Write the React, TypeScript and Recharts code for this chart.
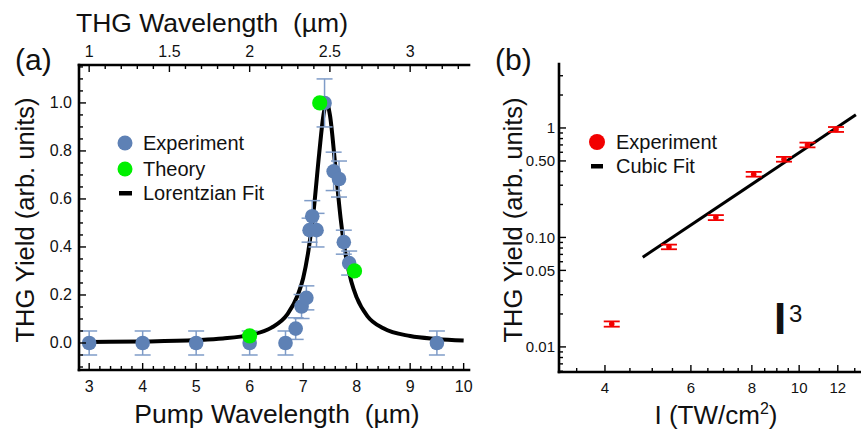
import React from 'react';
import { ComposedChart, Scatter, Line, XAxis, YAxis, ErrorBar } from 'recharts';

const FONT = "'Liberation Sans', Arial, Helvetica, sans-serif";
const BLUE = '#5E81B5';
const BLUE_ERR = '#7F9CC8';
const GREEN = '#00F000';
const RED = '#F20000';

// ---------- Panel (a) ----------
const pumpWavelength = [3, 4, 5, 6, 6.67, 6.86, 6.97, 7.06, 7.12, 7.17, 7.25, 7.4, 7.57, 7.67, 7.76, 7.86, 9.5];
const expYield = [0, 0, 0, 0, 0, 0.06, 0.152, 0.188, 0.47, 0.528, 0.47, 1.0, 0.715, 0.683, 0.42, 0.333, 0];
const expError = [0.05, 0.05, 0.05, 0.05, 0.05, 0.045, 0.05, 0.05, 0.05, 0.065, 0.07, 0.1, 0.08, 0.075, 0.05, 0.05, 0.05];
const theoryWavelength = [6.0, 7.31, 7.96];
const theoryYield = [0.03, 1.0, 0.3];
const fitWavelength = [2.9, 3, 4, 5, 5.5, 6, 6.4, 6.7, 6.9, 7.0, 7.1, 7.2, 7.3, 7.38, 7.44, 7.5, 7.6, 7.7, 7.8, 7.9, 8.0, 8.2, 8.5, 9, 9.5, 10.0];
const fitYield = [0.003, 0.004, 0.006, 0.012, 0.019, 0.034, 0.063, 0.118, 0.2, 0.27, 0.387, 0.56, 0.79, 0.95, 1.0, 0.95, 0.74, 0.52, 0.36, 0.256, 0.19, 0.112, 0.061, 0.029, 0.017, 0.01];
const pumpTicks = [3, 4, 5, 6, 7, 8, 9, 10];
const thgTicks = [1, 1.5, 2, 2.5, 3];
const yieldTicksA = [0, 0.2, 0.4, 0.6, 0.8, 1.0];

// ---------- Panel (b) ----------
const intensity = [4.13, 5.41, 6.75, 8.07, 9.31, 10.4, 11.9];
const thgYieldB = [0.0162, 0.082, 0.152, 0.378, 0.518, 0.7, 0.97];
const thgErrorB = [0.0009, 0.004, 0.008, 0.019, 0.026, 0.035, 0.05];
const cubicIntensity = [4.78, 13.07];
const cubicYield = [0.066, 1.32];
const intensityTicks = [4, 6, 8, 10, 12];
const intensityMinor = [3.5, 4.5, 5, 5.5, 6.5, 7, 7.5, 8.5, 9, 9.5, 11, 13];
const yieldTicksB = [0.01, 0.05, 0.1, 0.5, 1];
const yieldTickLabelsB = ['0.01', '0.05', '0.10', '0.50', '1'];
const yieldMinorB = [0.006, 0.007, 0.008, 0.009, 0.02, 0.03, 0.04, 0.06, 0.07, 0.08, 0.09, 0.2, 0.3, 0.4, 0.6, 0.7, 0.8, 0.9, 2, 3];

const range = (a: number, b: number, step: number) => {
  const out: number[] = [];
  const n = Math.round((b - a) / step);
  for (let i = 0; i <= n; i++) out.push(Math.round((a + i * step) * 1e6) / 1e6);
  return out;
};

const expData = pumpWavelength.map((x, i) => ({ x, y: expYield[i], err: expError[i] }));
const theoryData = theoryWavelength.map((x, i) => ({ x, y: theoryYield[i] }));
const fitData = fitWavelength.map((x, i) => ({ x, y: fitYield[i] }));
const bData = intensity.map((x, i) => ({ x, y: thgYieldB[i], err: thgErrorB[i] }));
const cubicData = cubicIntensity.map((x, i) => ({ x, y: cubicYield[i] }));

const bottomTicksA = range(3.0, 10.0, 0.2);
const topTicksA = range(1.0, 3.3, 0.1).map((v) => Math.round(v * 3 * 1e6) / 1e6);
const topMajorsA = thgTicks.map((t) => t * 3);
const leftTicksA = range(-0.1, 1.15, 0.05);
const xTicksB = [...intensityTicks, ...intensityMinor].sort((a, b) => a - b);
const yTicksB = [...yieldTicksB, ...yieldMinorB].sort((a, b) => a - b);

type Side = 'bottom' | 'top' | 'left' | 'right';

const makeTick =
  (side: Side, majors: number[], label: ((v: number) => string) | null, fontSize: number, gap: number, majorLen = 7, minorLen = 4) =>
  (props: any) => {
    const { x, y, payload } = props;
    const v = payload.value as number;
    const isMajor = majors.some((m) => Math.abs(m - v) < 1e-6 * Math.max(1, Math.abs(m)));
    const len = isMajor ? majorLen : minorLen;
    const txt = isMajor && label ? label(v) : null;
    const ls = { stroke: '#000', strokeWidth: 1.4 };
    const ts = { fontFamily: FONT, fontSize, fill: '#111' };
    if (side === 'bottom') {
      return (
        <g>
          <line x1={x} y1={y} x2={x} y2={y - len} {...ls} />
          {txt && <text x={x} y={y + gap} textAnchor="middle" dominantBaseline="central" {...ts}>{txt}</text>}
        </g>
      );
    }
    if (side === 'top') {
      return (
        <g>
          <line x1={x} y1={y} x2={x} y2={y + len} {...ls} />
          {txt && <text x={x} y={y - gap} textAnchor="middle" dominantBaseline="central" {...ts}>{txt}</text>}
        </g>
      );
    }
    if (side === 'left') {
      return (
        <g>
          <line x1={x} y1={y} x2={x + len} y2={y} {...ls} />
          {txt && <text x={x - gap} y={y} textAnchor="end" dominantBaseline="central" {...ts}>{txt}</text>}
        </g>
      );
    }
    return (
      <g>
        <line x1={x} y1={y} x2={x - len} y2={y} {...ls} />
      </g>
    );
  };

const frame = { stroke: '#000', strokeWidth: 2.6, strokeLinecap: 'square' as const };

const fmtTop = (v: number) => {
  const t = v / 3;
  return Math.abs(t - Math.round(t)) < 1e-6 ? String(Math.round(t)) : t.toFixed(1);
};
const fmtB = (v: number) => {
  const i = yieldTicksB.findIndex((m) => Math.abs(m - v) < 1e-9);
  return i >= 0 ? yieldTickLabelsB[i] : '';
};

const blueDot = (p: any) => <circle cx={p.cx} cy={p.cy} r={7.3} fill={BLUE} />;
const greenDot = (p: any) => <circle cx={p.cx} cy={p.cy} r={7.6} fill={GREEN} />;
const redDot = (p: any) => <circle cx={p.cx} cy={p.cy} r={2.8} fill={RED} />;

export default function App() {
  return (
    <div style={{ position: 'absolute', left: 0, top: 0, width: 861, height: 430, overflow: 'hidden', background: '#fff', fontFamily: FONT }}>
      <div style={{ position: 'absolute', left: 0, top: 0 }}>
        <ComposedChart width={480} height={430} margin={{ top: 35, right: 11, bottom: 0, left: 29 }}>
          <XAxis xAxisId="b" dataKey="x" type="number" orientation="bottom" domain={[2.81, 10.1]} allowDataOverflow ticks={bottomTicksA} interval={0} tickSize={0} tickMargin={0} tickLine={false} axisLine={frame} tick={makeTick('bottom', pumpTicks, (v) => String(v), 16, 16)} height={60} />
          <XAxis xAxisId="t" dataKey="x" type="number" orientation="top" domain={[2.81, 10.1]} allowDataOverflow ticks={topTicksA} interval={0} tickSize={0} tickMargin={0} tickLine={false} axisLine={frame} tick={makeTick('top', topMajorsA, fmtTop, 16, 14)} height={30} />
          <YAxis yAxisId="l" dataKey="y" type="number" orientation="left" domain={[-0.1125, 1.158]} allowDataOverflow ticks={leftTicksA} interval={0} tickSize={0} tickMargin={0} tickLine={false} axisLine={frame} tick={makeTick('left', yieldTicksA, (v) => v.toFixed(1), 16, 7)} width={50} />
          <YAxis yAxisId="r" dataKey="y" type="number" orientation="right" domain={[-0.1125, 1.158]} allowDataOverflow ticks={leftTicksA} interval={0} tickSize={0} tickMargin={0} tickLine={false} axisLine={frame} tick={makeTick('right', yieldTicksA, null, 16, 7)} width={0} />
          <Line xAxisId="b" yAxisId="l" data={fitData} dataKey="y" type="monotone" stroke="#000" strokeWidth={4} dot={false} activeDot={false} isAnimationActive={false} />
          <Scatter xAxisId="b" yAxisId="l" data={expData} dataKey="y" shape={blueDot} isAnimationActive={false}>
            <ErrorBar dataKey="err" direction="y" width={8} stroke={BLUE_ERR} strokeWidth={1.5} isAnimationActive={false} />
          </Scatter>
          <Scatter xAxisId="b" yAxisId="l" data={theoryData} dataKey="y" shape={greenDot} isAnimationActive={false} />
        </ComposedChart>
      </div>

      <div style={{ position: 'absolute', left: 490, top: 0 }}>
        <ComposedChart width={400} height={430} margin={{ top: 64, right: 20, bottom: 0, left: 0 }}>
          <XAxis xAxisId="b" dataKey="x" type="number" scale="log" orientation="bottom" domain={[3.22, 13.97]} allowDataOverflow ticks={xTicksB} interval={0} tickSize={0} tickMargin={0} tickLine={false} axisLine={frame} tick={makeTick('bottom', intensityTicks, (v) => String(v), 15, 15)} height={58} />
          <XAxis xAxisId="t" dataKey="x" type="number" scale="log" orientation="top" domain={[3.22, 13.97]} allowDataOverflow ticks={xTicksB} interval={0} tickSize={0} tickMargin={0} tickLine={false} axisLine={frame} tick={makeTick('top', intensityTicks, null, 15, 15)} height={0} />
          <YAxis yAxisId="l" dataKey="y" type="number" scale="log" orientation="left" domain={[0.0059, 3.84]} allowDataOverflow ticks={yTicksB} interval={0} tickSize={0} tickMargin={0} tickLine={false} axisLine={frame} tick={makeTick('left', yieldTicksB, fmtB, 15, 4)} width={69} />
          <Line xAxisId="b" yAxisId="l" data={cubicData} dataKey="y" type="linear" stroke="#000" strokeWidth={3} dot={false} activeDot={false} isAnimationActive={false} />
          <Scatter xAxisId="b" yAxisId="l" data={bData} dataKey="y" shape={redDot} isAnimationActive={false}>
            <ErrorBar dataKey="err" direction="y" width={8} stroke={RED} strokeWidth={1.8} isAnimationActive={false} />
          </Scatter>
        </ComposedChart>
      </div>

      <svg width={861} height={430} style={{ position: 'absolute', left: 0, top: 0, pointerEvents: 'none' }}>
        <g fontFamily={FONT} fill="#111">
          <text x={15} y={70} fontSize={30}>(a)</text>
          <text x={495} y={70} fontSize={30}>(b)</text>
          <text x={212} y={32} fontSize={26.5} textAnchor="middle" style={{ whiteSpace: 'pre' }}>THG Wavelength  (µm)</text>
          <text x={277} y={423} fontSize={26.5} textAnchor="middle" style={{ whiteSpace: 'pre' }}>Pump Wavelength  (µm)</text>
          <text transform="translate(34,220) rotate(-90)" fontSize={25.5} textAnchor="middle">THG Yield (arb. units)</text>
          <text transform="translate(522,220) rotate(-90)" fontSize={25.5} textAnchor="middle">THG Yield (arb. units)</text>
          <text x={716} y={424} fontSize={26} textAnchor="middle">
            I (TW/cm<tspan fontSize={16} dy={-10}>2</tspan><tspan dy={10}>)</tspan>
          </text>

          {/* legend (a) */}
          <circle cx={125} cy={143} r={7.5} fill={BLUE} />
          <text x={143} y={143} fontSize={20} dominantBaseline="central">Experiment</text>
          <circle cx={125} cy={169} r={7.5} fill={GREEN} />
          <text x={143} y={169} fontSize={20} dominantBaseline="central">Theory</text>
          <rect x={119} y={191} width={13} height={4.5} fill="#000" />
          <text x={143} y={193} fontSize={20} dominantBaseline="central">Lorentzian Fit</text>

          {/* legend (b) */}
          <circle cx={597} cy={142} r={8} fill={RED} />
          <text x={616} y={142} fontSize={20} dominantBaseline="central">Experiment</text>
          <rect x={591} y={164} width={12} height={4.5} fill="#000" />
          <text x={616} y={166} fontSize={20} dominantBaseline="central">Cubic Fit</text>

          <text x={774} y={334} fontSize={44} fontWeight="bold">I</text>
          <text x={789} y={322} fontSize={24}>3</text>
        </g>
      </svg>
    </div>
  );
}
